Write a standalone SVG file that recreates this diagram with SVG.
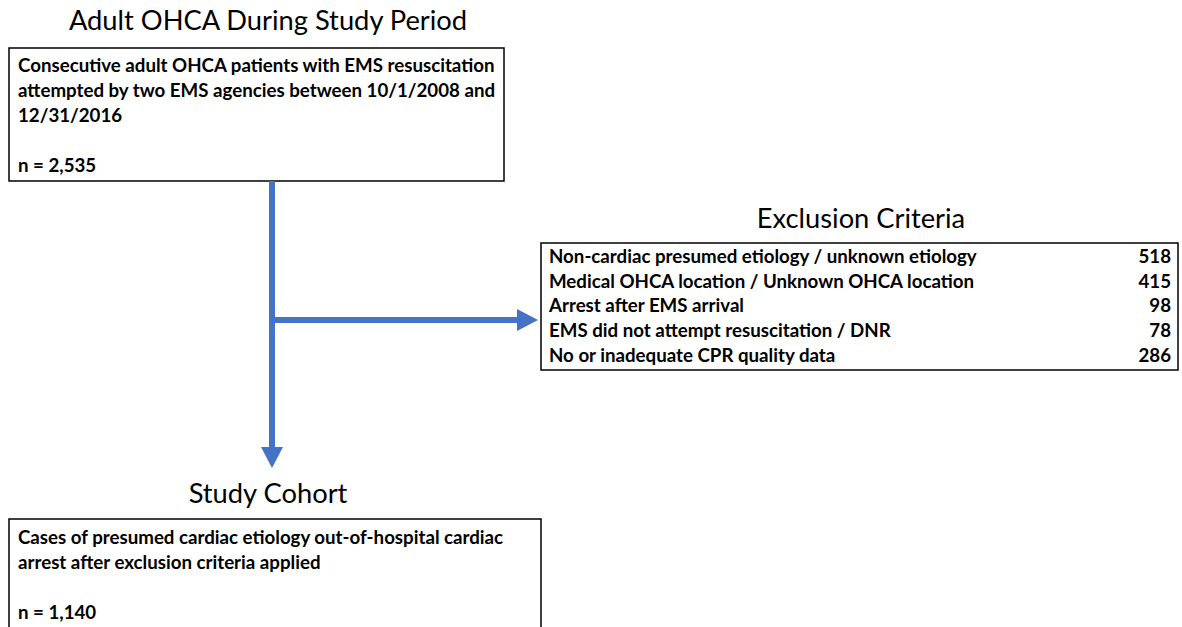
<svg xmlns="http://www.w3.org/2000/svg" width="1182" height="627" viewBox="0 0 1182 627">
<style>
.title{font-family:Lato,"Open Sans",sans-serif;font-size:27.3px;fill:#000;text-anchor:middle}
.t{font-family:Lato,"Open Sans",sans-serif;font-size:18.7px;font-weight:bold;fill:#000}
.num{text-anchor:end}
.box{fill:#fff;stroke:#000;stroke-width:1.5}
.conn{stroke:#4472C4;stroke-width:6;fill:none}
.head{fill:#4472C4}
</style>
<rect width="1182" height="627" fill="#fff"/>
<g id="top">
<text class="title" x="268" y="30">Adult OHCA During Study Period</text>
<rect class="box" x="9" y="48" width="495" height="133"/>
<text class="t" x="18" y="72">Consecutive adult OHCA patients with EMS resuscitation</text>
<text class="t" x="18" y="97">attempted by two EMS agencies between 10/1/2008 and</text>
<text class="t" x="18" y="122">12/31/2016</text>
<text class="t" x="18" y="172">n = 2,535</text>
</g>
<g id="exclusion">
<text class="title" x="861" y="228">Exclusion Criteria</text>
<rect class="box" x="541" y="243" width="637" height="127"/>
<text class="t" x="549" y="263">Non-cardiac presumed etiology / unknown etiology</text>
<text class="t num" x="1171" y="263">518</text>
<text class="t" x="549" y="288">Medical OHCA location / Unknown OHCA location</text>
<text class="t num" x="1171" y="288">415</text>
<text class="t" x="549" y="312">Arrest after EMS arrival</text>
<text class="t num" x="1171" y="312">98</text>
<text class="t" x="549" y="337">EMS did not attempt resuscitation / DNR</text>
<text class="t num" x="1171" y="337">78</text>
<text class="t" x="549" y="362">No or inadequate CPR quality data</text>
<text class="t num" x="1171" y="362">286</text>
</g>
<g id="cohort">
<text class="title" x="268" y="503">Study Cohort</text>
<rect class="box" x="9" y="519" width="532" height="120"/>
<text class="t" x="18" y="544">Cases of presumed cardiac etiology out-of-hospital cardiac</text>
<text class="t" x="18" y="569">arrest after exclusion criteria applied</text>
<text class="t" x="18" y="619">n = 1,140</text>
</g>
<g id="connectors">
<line class="conn" x1="272" y1="181" x2="272" y2="448"/>
<polygon class="head" points="261,447 283,447 272,468"/>
<line class="conn" x1="272" y1="320" x2="518" y2="320"/>
<polygon class="head" points="517,309 517,331 538,320"/>
</g>
</svg>
